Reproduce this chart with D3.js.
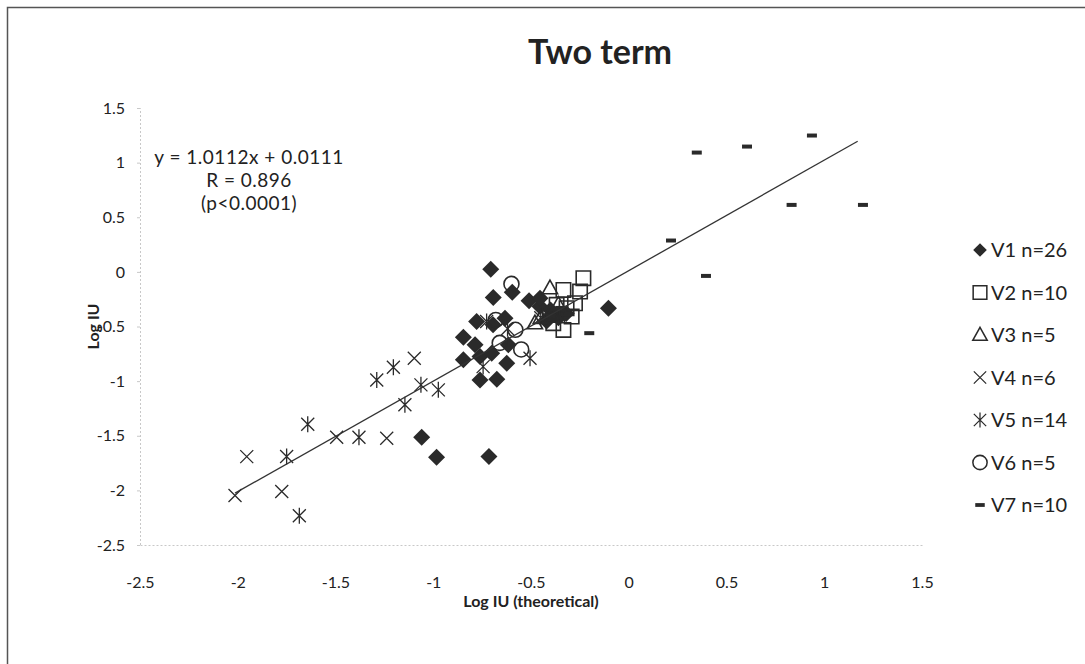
<!DOCTYPE html>
<html>
<head>
<meta charset="utf-8">
<script src="https://cdn.jsdelivr.net/npm/d3@7"></script>
<style>
  html, body { margin: 0; padding: 0; background: #fff; }
  svg { display: block; }
  text { font-family: Lato, "Open Sans", "Liberation Sans", sans-serif; fill: #222; }
</style>
</head>
<body>
<svg id="chart" width="1085" height="664"></svg>
<script>
// ---------- data ----------
const title = "Two term";
const xLabel = "Log IU (theoretical)";
const yLabel = "Log IU";
const xTicks = [-2.5, -2, -1.5, -1, -0.5, 0, 0.5, 1, 1.5];
const yTicks = [-2.5, -2, -1.5, -1, -0.5, 0, 0.5, 1, 1.5];
const seriesNames = ["V1 n=26", "V2 n=10", "V3 n=5", "V4 n=6", "V5 n=14", "V6 n=5", "V7 n=10"];
const equationLines = ["y = 1.0112x + 0.0111", "R = 0.896", "(p<0.0001)"];
const fitSlope = 1.0112;
const fitIntercept = 0.0111;
const fitRange = [-2.014, 1.171];

const v1 = [[-0.706,0.025],[-0.693,-0.235],[-0.596,-0.186],[-0.510,-0.265],[-0.104,-0.333],
  [-0.778,-0.455],[-0.633,-0.424],[-0.846,-0.598],[-0.786,-0.668],[-0.846,-0.805],
  [-0.761,-0.775],[-0.701,-0.744],[-0.616,-0.668],[-0.624,-0.836],[-0.761,-0.989],
  [-0.675,-0.982],[-0.454,-0.317],[-1.059,-1.513],[-0.983,-1.697],[-0.715,-1.69],
  [-0.454,-0.241],[-0.40,-0.35],[-0.36,-0.42],[-0.32,-0.38],[-0.42,-0.45],[-0.694,-0.485]];
const v2 = [[-0.232,-0.058],[-0.334,-0.165],[-0.249,-0.180],[-0.292,-0.409],[-0.334,-0.531],
  [-0.369,-0.302],[-0.318,-0.332],[-0.386,-0.47],[-0.275,-0.287],[-0.403,-0.394]];
const v3 = [[-0.403,-0.149],[-0.45,-0.42],[-0.40,-0.38],[-0.36,-0.30],[-0.48,-0.47]];
const v4 = [[-1.954,-1.691],[-2.014,-2.047],[-1.775,-2.011],[-1.494,-1.513],[-1.238,-1.523],[-1.097,-0.790]];
const v5 = [[-1.75,-1.69],[-1.685,-2.233],[-1.642,-1.394],[-1.38,-1.513],[-1.289,-0.989],
  [-1.204,-0.873],[-1.063,-1.034],[-0.974,-1.08],[-1.145,-1.217],[-0.505,-0.79],
  [-0.727,-0.455],[-0.745,-0.867],[-0.62,-0.52],[-0.45,-0.42]];
const v6 = [[-0.60,-0.11],[-0.58,-0.53],[-0.55,-0.71],[-0.66,-0.65],[-0.68,-0.44]];
const v7 = [[0.348,1.092],[0.605,1.147],[0.937,1.248],[0.833,0.613],[1.198,0.613],
  [0.216,0.287],[0.395,-0.037],[-0.202,-0.561],[-0.40,-0.40],[-0.35,-0.33]];

const seriesData = [v1, v2, v3, v4, v5, v6, v7];
const markerKinds = ["diamond", "square", "triangle", "x", "star", "circle", "dash"];

// ---------- layout ----------
const svg = d3.select("#chart");
const plot = { left: 140, right: 922, top: 108, bottom: 545 };
const x = d3.scaleLinear().domain([-2.5, 1.5]).range([plot.left, plot.right]);
const y = d3.scaleLinear().domain([-2.5, 1.5]).range([plot.bottom, plot.top]);
const ink = "#2a2a2a";

// chart border (right/bottom edges fall outside the picture)
svg.append("rect").attr("x", 7.5).attr("y", 7.5).attr("width", 1120).attr("height", 700)
  .attr("fill", "none").attr("stroke", "#555").attr("stroke-width", 1.5);

// axes
const fmt = d => String(d);
const xAxis = d3.axisBottom(x).tickValues(xTicks).tickSize(0).tickPadding(32).tickFormat(fmt);
const yAxis = d3.axisLeft(y).tickValues(yTicks).tickSize(3).tickPadding(12).tickFormat(fmt);

const gx = svg.append("g").attr("transform", `translate(0,${plot.bottom})`).call(xAxis);
const gy = svg.append("g").attr("transform", `translate(${plot.left},0)`).call(yAxis);
[gx, gy].forEach(g => {
  g.select(".domain").attr("stroke", "#c8c8c8").attr("stroke-dasharray", "2,2").attr("stroke-width", 1);
  g.selectAll(".tick line").attr("stroke", "#c8c8c8");
  g.selectAll(".tick text").attr("font-family", "Lato, 'Open Sans', sans-serif")
    .attr("font-size", 16).attr("fill", "#222");
});

// title and axis titles
svg.append("text").attr("x", 600).attr("y", 64).attr("text-anchor", "middle")
  .attr("font-size", 34).attr("font-weight", "bold").text(title);
svg.append("text").attr("x", 531).attr("y", 607).attr("text-anchor", "middle")
  .attr("font-size", 16).attr("font-weight", "bold").text(xLabel);
svg.append("text").attr("transform", `translate(99,${(plot.top + plot.bottom) / 2}) rotate(-90)`)
  .attr("text-anchor", "middle").attr("font-size", 16).attr("font-weight", "bold").text(yLabel);

// equation annotation (separate lines)
equationLines.forEach((t, i) => {
  svg.append("text").attr("text-anchor", "middle").attr("font-size", 19)
    .attr("letter-spacing", 0.5)
    .attr("x", 249).attr("y", 164 + i * 23).text(t);
});

// ---------- markers ----------
function markerPath(kind) {
  const p = d3.path();
  switch (kind) {
    case "diamond": { const r = 8.5; p.moveTo(0,-r); p.lineTo(r,0); p.lineTo(0,r); p.lineTo(-r,0); p.closePath(); break; }
    case "square": { const s = 7.2; p.rect(-s, -s, 2*s, 2*s); break; }
    case "triangle": { const r = 8; p.moveTo(0,-r); p.lineTo(r*0.95,r*0.7); p.lineTo(-r*0.95,r*0.7); p.closePath(); break; }
    case "x": { const r = 6.5; p.moveTo(-r,-r); p.lineTo(r,r); p.moveTo(r,-r); p.lineTo(-r,r); break; }
    case "star": { const r = 6.5; p.moveTo(-r,-r); p.lineTo(r,r); p.moveTo(r,-r); p.lineTo(-r,r); p.moveTo(0,-r-1.5); p.lineTo(0,r+1.5); break; }
    case "circle": { p.arc(0, 0, 7.5, 0, 2*Math.PI); break; }
    case "dash": { p.rect(-5, -2, 10, 4); break; }
  }
  return p.toString();
}
function styleMarker(sel, kind) {
  if (kind === "diamond" || kind === "dash") {
    sel.attr("fill", ink).attr("stroke", "none");
  } else {
    sel.attr("fill", "none").attr("stroke", ink).attr("stroke-width", kind === "x" || kind === "star" ? 1.3 : 1.6);
  }
}

const plotG = svg.append("g");
seriesData.forEach((data, i) => {
  const kind = markerKinds[i];
  const sel = plotG.append("g").selectAll("path").data(data).join("path")
    .attr("d", markerPath(kind))
    .attr("transform", d => `translate(${x(d[0])},${y(d[1])})`);
  styleMarker(sel, kind);
});

// regression line
svg.append("line")
  .attr("x1", x(fitRange[0])).attr("y1", y(fitSlope * fitRange[0] + fitIntercept))
  .attr("x2", x(fitRange[1])).attr("y2", y(fitSlope * fitRange[1] + fitIntercept))
  .attr("stroke", "#333").attr("stroke-width", 1.3);

// ---------- legend ----------
const legendY = d3.scaleLinear().domain([0, seriesNames.length - 1]).range([250, 505]);
const leg = svg.append("g");
seriesNames.forEach((name, i) => {
  const kind = markerKinds[i];
  const cy = legendY(i);
  const m = leg.append("path").attr("d", markerPath(kind))
    .attr("transform", `translate(980,${cy}) scale(${kind === "diamond" ? 0.8 : 0.95})`);
  styleMarker(m, kind);
  leg.append("text").attr("x", 991).attr("y", cy).attr("dy", "0.36em")
    .attr("font-size", 20).text(name);
});
</script>
</body>
</html>
